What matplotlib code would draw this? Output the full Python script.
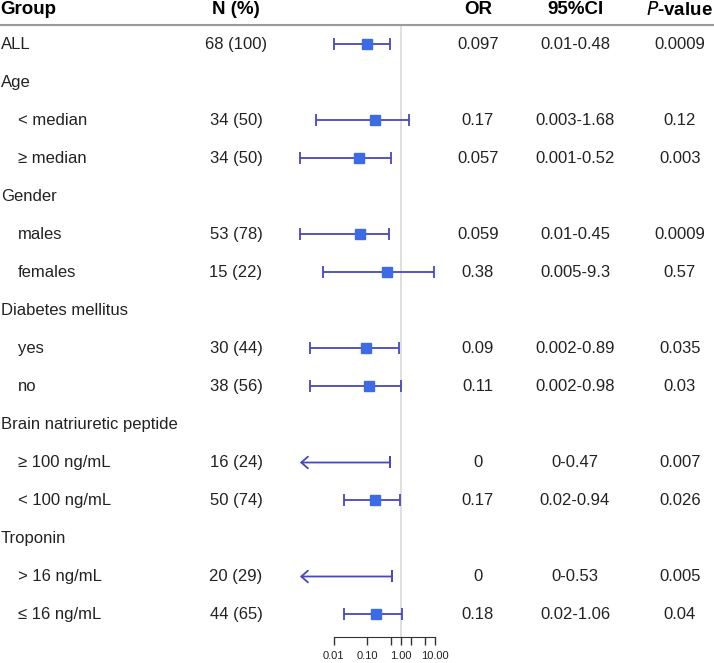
import matplotlib
matplotlib.use("Agg")
import matplotlib.pyplot as plt
import matplotlib.transforms as mtransforms
from matplotlib.lines import Line2D
import numpy as np

plt.rcParams['font.family'] = ['Liberation Sans', 'DejaVu Sans']

# ---- data ----
labels = ["ALL", "Age", "< median", "\u2265 median", "Gender", "males", "females",
          "Diabetes mellitus", "yes", "no", "Brain natriuretic peptide",
          "\u2265 100 ng/mL", "< 100 ng/mL", "Troponin", "> 16 ng/mL", "\u2264 16 ng/mL"]
is_sub = [False, False, True, True, False, True, True, False, True, True, False,
          True, True, False, True, True]
n_pct = ["68 (100)", "", "34 (50)", "34 (50)", "", "53 (78)", "15 (22)", "",
         "30 (44)", "38 (56)", "", "16 (24)", "50 (74)", "", "20 (29)", "44 (65)"]
or_txt = ["0.097", "", "0.17", "0.057", "", "0.059", "0.38", "", "0.09", "0.11", "",
          "0", "0.17", "", "0", "0.18"]
ci_txt = ["0.01-0.48", "", "0.003-1.68", "0.001-0.52", "", "0.01-0.45", "0.005-9.3", "",
          "0.002-0.89", "0.002-0.98", "", "0-0.47", "0.02-0.94", "", "0-0.53", "0.02-1.06"]
p_txt = ["0.0009", "", "0.12", "0.003", "", "0.0009", "0.57", "", "0.035", "0.03", "",
         "0.007", "0.026", "", "0.005", "0.04"]
# plotted estimates (NaN = no estimate row)
est = [0.097, np.nan, 0.17, 0.057, np.nan, 0.059, 0.38, np.nan, 0.09, 0.11, np.nan,
       0.0, 0.17, np.nan, 0.0, 0.18]
low = [0.01, np.nan, 0.003, 0.001, np.nan, 0.001, 0.005, np.nan, 0.002, 0.002, np.nan,
       0.0, 0.02, np.nan, 0.0, 0.02]
upp = [0.48, np.nan, 1.68, 0.52, np.nan, 0.45, 9.3, np.nan, 0.89, 0.98, np.nan,
       0.47, 0.94, np.nan, 0.53, 1.06]
arrow_end = 0.001
tick_vals = [0.01, 0.1, 0.5, 1, 2, 5, 10]
tick_labels = ["0.01", "0.10", "", "1.00", "", "", "10.00"]
headers = ["Group", "N (%)", "OR", "95%CI", "P-value"]

# ---- layout (pixels) ----
W, H = 714, 663
fig = plt.figure(figsize=(W / 100, H / 100), dpi=100)
ax_left, ax_right = 290, 445
ax_top, ax_bot = 25, 637
ax = fig.add_axes([ax_left / W, 1 - ax_bot / H, (ax_right - ax_left) / W, (ax_bot - ax_top) / H])
ax.set_xscale('log')
px_per_dec = 33.7
x_one = 401
ax.set_xlim(10 ** ((ax_left - x_one) / px_per_dec), 10 ** ((ax_right - x_one) / px_per_dec))
row0, row_h = 44.5, 38.0
ax.set_ylim((ax_bot - row0) / row_h, (ax_top - row0) / row_h)

line_col = "#4747C2"
sq_col = "#3D6BE6"
txt_col = "#222222"

ax.axvline(1, color="#d9d9d9", lw=1.2, zorder=0)

rows = np.arange(len(labels))
est_a = np.array(est); low_a = np.array(low); upp_a = np.array(upp)
for i in rows:
    if np.isnan(est_a[i]):
        continue
    if low_a[i] > 0:
        ax.errorbar([est_a[i]], [i], xerr=[[est_a[i] - low_a[i]], [upp_a[i] - est_a[i]]],
                    fmt='none', ecolor=line_col, elinewidth=1.3, capsize=4.5, capthick=1.3)
        ax.plot([est_a[i]], [i], marker='s', ms=7, color=sq_col, mec=sq_col, ls='none', zorder=3)
    else:
        ax.annotate("", xy=(arrow_end, i), xytext=(upp_a[i], i),
                    arrowprops=dict(arrowstyle="->,head_length=0.4,head_width=0.35",
                                    color=line_col, lw=1.3,
                                    mutation_scale=12, shrinkA=0, shrinkB=0))
        ax.errorbar([upp_a[i]], [i], xerr=[[0], [0]], fmt='none', ecolor=line_col,
                    elinewidth=1.3, capsize=4.5, capthick=1.3)

for s in ['top', 'right', 'left']:
    ax.spines[s].set_visible(False)
ax.spines['bottom'].set_bounds(tick_vals[0], tick_vals[-1])
ax.spines['bottom'].set_color('#333333')
ax.set_xticks(tick_vals)
ax.set_xticklabels(tick_labels, fontsize=8, color=txt_col)
ax.xaxis.set_minor_locator(matplotlib.ticker.NullLocator())
ax.tick_params(axis='x', length=6, width=1, color='#333333', pad=4)
ax.set_yticks([])
ax.patch.set_alpha(0)

# ---- text columns ----
tr = mtransforms.blended_transform_factory(fig.transFigure, ax.transData)
fs = 12
hfs = 13.5
x_group, x_sub = 1 / W, 18 / W
x_n, x_or, x_ci, x_p = 236 / W, 478 / W, 575 / W, 680 / W
for i in rows:
    ax.text(x_sub if is_sub[i] else x_group, i, labels[i], transform=tr, ha='left',
            va='center', fontsize=fs, color=txt_col, clip_on=False)
    for x, col in [(x_n, n_pct), (x_or, or_txt), (x_ci, ci_txt), (x_p, p_txt)]:
        if col[i]:
            ax.text(x, i, col[i], transform=tr, ha='center', va='center', fontsize=fs,
                    color=txt_col, clip_on=False)

hy = 1 - 10 / H
fig.text(0 / W, hy, headers[0], ha='left', va='center', fontsize=hfs, fontweight='bold')
fig.text(x_n, hy, headers[1], ha='center', va='center', fontsize=hfs, fontweight='bold')
fig.text(x_or, hy, headers[2], ha='center', va='center', fontsize=hfs, fontweight='bold')
fig.text(x_ci, hy, headers[3], ha='center', va='center', fontsize=hfs, fontweight='bold')
fig.text(713 / W, hy, "$\\mathbf{\\mathit{P}}$-value", ha='right', va='center', fontsize=hfs,
         fontweight='bold')

fig.add_artist(Line2D([0, 1], [1 - 25 / H, 1 - 25 / H], transform=fig.transFigure,
                      color='#9a9a9a', lw=1.5))

fig.savefig("out.png", dpi=100)
